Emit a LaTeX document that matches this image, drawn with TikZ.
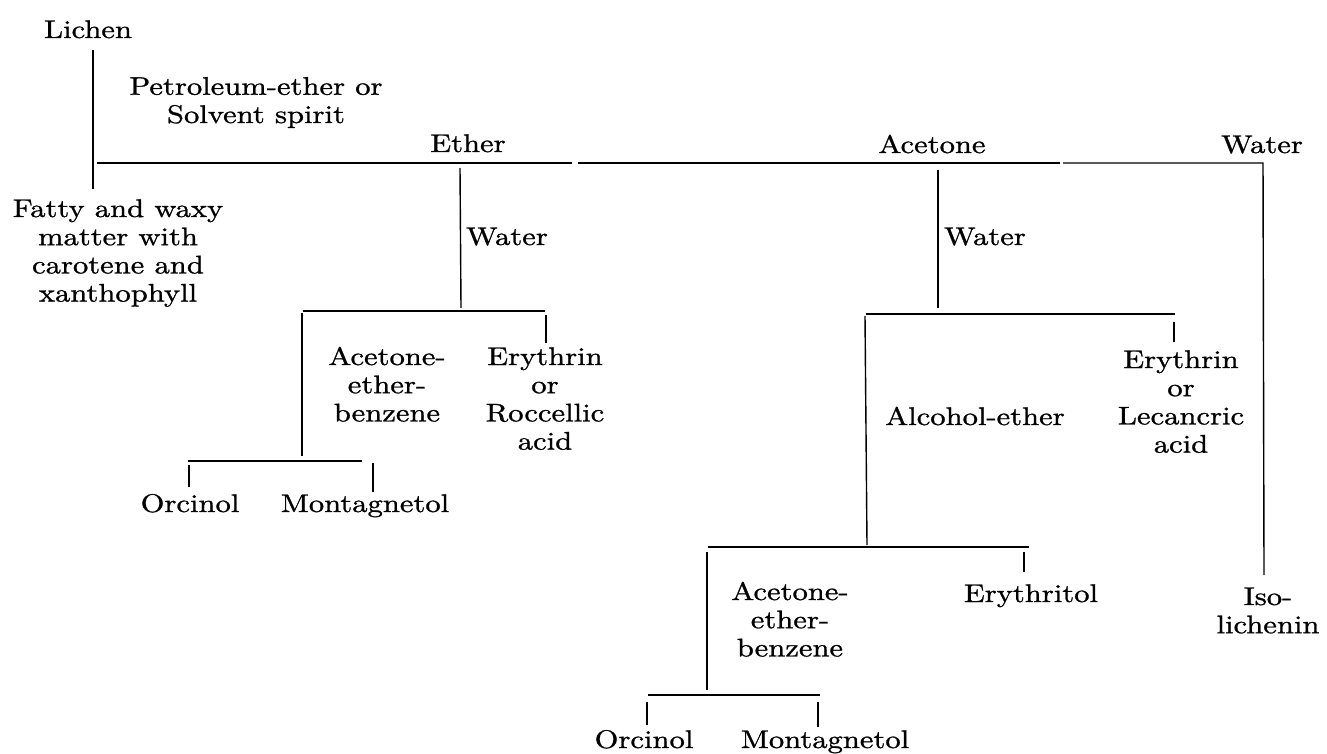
\documentclass[tikz,border=0pt]{standalone}
\usepackage{fontspec}
\setmainfont{lmroman10-regular.otf}[FakeStretch=1.2,FakeBold=1]
\begin{document}
\begin{tikzpicture}[x=1pt,y=-1pt,
  lbl/.style={anchor=base,inner sep=0pt,align=center,font=\fontsize{25.5}{28.2}\selectfont},
  ln/.style={line width=1.4pt,black}]
\useasboundingbox[fill=white] (0,0) rectangle (1327,754);
% labels (base anchor = baseline of the last line)
\node[lbl] (lichen) at (88,38) {Lichen};
\node[lbl] (petro) at (256,123) {Petroleum-ether or\\Solvent spirit};
\node[lbl] (ether) at (468,152) {Ether};
\node[lbl] (acetone) at (932,153) {Acetone};
\node[lbl] (waterT) at (1262,153) {Water};
\node[lbl] (fatty) at (118,301.6) {Fatty and waxy\\matter with\\carotene and\\xanthophyll};
\node[lbl] (waterE) at (507,245) {Water};
\node[lbl] (waterA) at (985,245) {Water};
\node[lbl] (aeb1) at (387,421.4) {Acetone-\\ether-\\benzene};
\node[lbl] (ery1) at (545,449.6) {Erythrin\\or\\Roccellic\\acid};
\node[lbl] (orc1) at (190,512) {Orcinol};
\node[lbl] (mont1) at (365,512) {Montagnetol};
\node[lbl] (alc) at (975,425) {Alcohol-ether};
\node[lbl] (ery2) at (1181,452.6) {Erythrin\\or\\Lecancric\\acid};
\node[lbl] (aeb2) at (790,656.4) {Acetone-\\ether-\\benzene};
\node[lbl] (erytol) at (1031,602) {Erythritol};
\node[lbl] (iso) at (1268,633.2) {Iso-\\lichenin};
\node[lbl] (orc2) at (644,748) {Orcinol};
\node[lbl] (mont2) at (825,748) {Montagnetol};
% junction coordinates
\coordinate (l1) at (93,50);   \coordinate (l2) at (93,189);
\coordinate (m0) at (97,163);  \coordinate (m1) at (572,163);
\coordinate (m2) at (578,163); \coordinate (m3) at (1060,163);
\coordinate (m4) at (1063,163);\coordinate (m5) at (1263,163);
\coordinate (w2) at (1264,575);
\coordinate (e1) at (460,168); \coordinate (e2) at (461,308);
\coordinate (eh1) at (303,311);\coordinate (eh2) at (545,311);
\coordinate (ev1) at (302,313);\coordinate (ev2) at (302,456);
\coordinate (et1) at (546,315);\coordinate (et2) at (546,343);
\coordinate (oh1) at (188,461);\coordinate (oh2) at (362,461);
\coordinate (ot1) at (189,465);\coordinate (ot2) at (189,487);
\coordinate (ot3) at (373,463);\coordinate (ot4) at (373,492);
\coordinate (a1) at (938,170); \coordinate (a2) at (938,308);
\coordinate (ah1) at (866,314);\coordinate (ah2) at (1175,314);
\coordinate (av1) at (865,316);\coordinate (av2) at (867,545);
\coordinate (at1) at (1174,322);\coordinate (at2) at (1174,342);
\coordinate (bh1) at (708,547);\coordinate (bh2) at (1029,547);
\coordinate (bv1) at (707,552);\coordinate (bv2) at (707,690);
\coordinate (bt1) at (1024,552);\coordinate (bt2) at (1024,572);
\coordinate (ch1) at (648,695);\coordinate (ch2) at (820,695);
\coordinate (ct1) at (647,702);\coordinate (ct2) at (647,725);
\coordinate (ct3) at (818,702);\coordinate (ct4) at (818,727);
% connectors
\draw[ln] (l1) -- (l2);
\draw[ln] (m0) -- (m1);
\draw[ln] (m2) -- (m3);
\draw[ln] (m4) -- (m5) -- (w2);
\draw[ln] (e1) -- (e2);
\draw[ln] (eh1) -- (eh2);
\draw[ln] (ev1) -- (ev2);
\draw[ln] (et1) -- (et2);
\draw[ln] (oh1) -- (oh2);
\draw[ln] (ot1) -- (ot2);
\draw[ln] (ot3) -- (ot4);
\draw[ln] (a1) -- (a2);
\draw[ln] (ah1) -- (ah2);
\draw[ln] (av1) -- (av2);
\draw[ln] (at1) -- (at2);
\draw[ln] (bh1) -- (bh2);
\draw[ln] (bv1) -- (bv2);
\draw[ln] (bt1) -- (bt2);
\draw[ln] (ch1) -- (ch2);
\draw[ln] (ct1) -- (ct2);
\draw[ln] (ct3) -- (ct4);
\end{tikzpicture}
\end{document}
